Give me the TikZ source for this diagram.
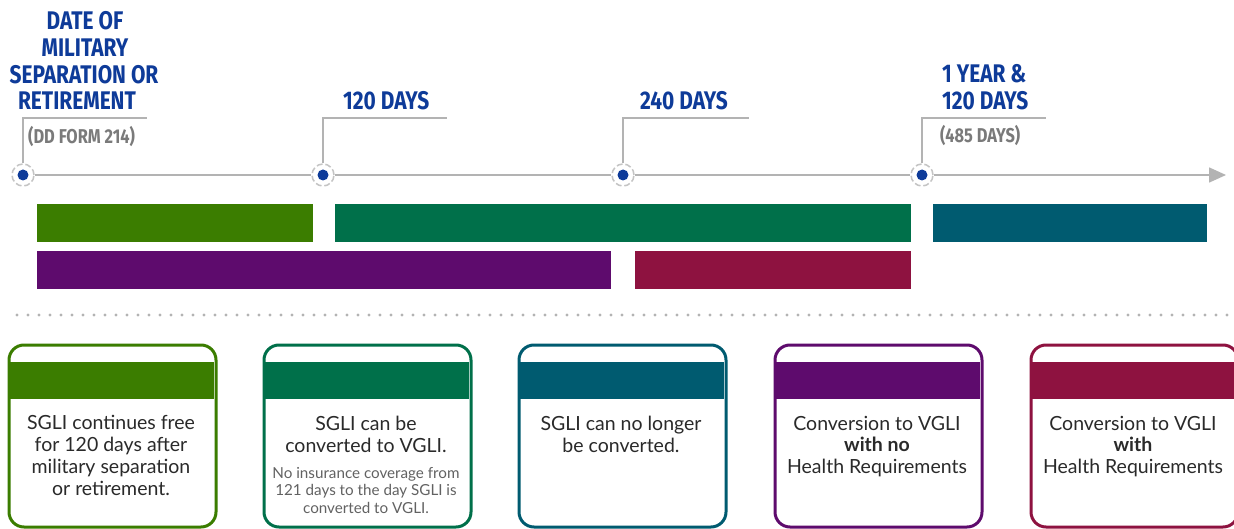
\documentclass[tikz,border=0pt]{standalone}
\usepackage{fontspec}
\setmainfont{Lato}
\newfontfamily\headfont[FakeStretch=0.82]{Fira Sans}
\usetikzlibrary{arrows.meta}
\definecolor{hblue}{HTML}{0E3B99}
\definecolor{hgray}{HTML}{7A7A7A}
\definecolor{lgray}{HTML}{B3B3B3}
\definecolor{rgray}{HTML}{C4C4C4}
\definecolor{cgreen}{HTML}{3B7D00}
\definecolor{cdgreen}{HTML}{00704A}
\definecolor{cteal}{HTML}{005B70}
\definecolor{cpurple}{HTML}{5E0B6D}
\definecolor{ccrimson}{HTML}{8E1240}
\definecolor{txt}{HTML}{2A2A2A}
\tikzset{
  ring/.style={circle, draw=rgray, line width=1.5pt, dash pattern=on 6pt off 2.8pt, fill=white, minimum size=22pt, inner sep=0pt},
  bdot/.style={circle, fill=hblue, minimum size=11pt, inner sep=0pt},
  tl/.style={draw=lgray, line width=1.5pt},
  leader/.style={draw=lgray, line width=1.3pt},
  head/.style={text=hblue, font=\headfont\bfseries\fontsize{25.5}{26.7}\selectfont, inner sep=0pt, align=center},
  sub/.style={text=hgray, font=\headfont\bfseries\fontsize{20}{21}\selectfont, inner sep=0pt},
  bar/.style={minimum height=38pt, inner sep=0pt, anchor=north west},
  card/.style={draw=#1, line width=3pt, rounded corners=15pt, minimum width=207pt, minimum height=182pt, inner sep=0pt, anchor=north west},
  band/.style={fill=#1, minimum height=37pt, minimum width=205pt, inner sep=0pt, anchor=north west},
  ctext/.style={text=txt, font=\fontsize{19.5}{21.7}\selectfont, align=center, inner sep=0pt, anchor=base},
  csmall/.style={text=hgray!80!black, font=\fontsize{15.2}{17.5}\selectfont, align=center, inner sep=0pt, anchor=base},
}
\begin{document}
\begin{tikzpicture}[x=1pt,y=-1pt]
\useasboundingbox[fill=white] (0,0) rectangle (1234,529);
% timeline
\node[ring] (r1) at (23,175) {};
\node[ring] (r2) at (323,175) {};
\node[ring] (r3) at (623,175) {};
\node[ring] (r4) at (922,175) {};
\coordinate (tend) at (1226,175);
\draw[tl] (r1) -- (r2);
\draw[tl] (r2) -- (r3);
\draw[tl] (r3) -- (r4);
\draw[tl, -{Triangle[length=17pt,width=15pt]}] (r4) -- (tend);
\node[bdot] (p1) at (r1) {};
\node[bdot] (p2) at (r2) {};
\node[bdot] (p3) at (r3) {};
\node[bdot] (p4) at (r4) {};
\coordinate (e1) at (147,118);
\coordinate (e2) at (447,118);
\coordinate (e3) at (749,118);
\coordinate (e4) at (1046,118);
\draw[leader] (r1.north) |- (e1);
\draw[leader] (r2.north) |- (e2);
\draw[leader] (r3.north) |- (e3);
\draw[leader] (r4.north) |- (e4);
% headings
\node[head, anchor=base] (h1a) at (85,30) {DATE OF};
\node[head, anchor=base] (h1b) at (85,56.7) {MILITARY};
\node[head, anchor=base] (h1c) at (84,83.3) {SEPARATION OR};
\node[head, anchor=base] (h1d) at (77,110) {RETIREMENT};
\node[sub, anchor=base west] (s1) at (28,144) {(DD FORM 214)};
\node[head, anchor=base west] (h2) at (343,110) {120 DAYS};
\node[head, anchor=base west] (h3) at (640,110) {240 DAYS};
\node[head, anchor=base west] (h4a) at (942,83) {1 YEAR \&};
\node[head, anchor=base west] (h4b) at (942,110) {120 DAYS};
\node[sub, anchor=base west] (s4) at (940,143) {(485 DAYS)};
% bars
\node[bar, fill=cgreen, minimum width=276pt] (bar1) at (37,204) {};
\node[bar, fill=cdgreen, minimum width=576pt] (bar2) at (335,204) {};
\node[bar, fill=cteal, minimum width=274pt] (bar3) at (933,204) {};
\node[bar, fill=cpurple, minimum width=574pt] (bar4) at (37,251) {};
\node[bar, fill=ccrimson, minimum width=276pt] (bar5) at (635,251) {};
% dotted separator
\coordinate (dl) at (17,315);
\coordinate (dr) at (1228,315);
\draw[lgray, line width=3.2pt, line cap=round, dash pattern=on 0pt off 11pt] (dl) -- (dr);
% cards
\foreach \n/\x/\c in {1/7.5/cgreen, 2/262.5/cdgreen, 3/517.5/cteal, 4/773.5/cpurple, 5/1029.5/ccrimson}{
  \node[card=\c] (card\n) at (\x,343.5) {};
  \node[band=\c] (band\n) at (\x+1,362) {};
}
\node[ctext] (t1) at (111,495) {SGLI continues free\\for 120 days after\\military separation\\or retirement.};
\node[ctext] (t2) at (366,452) {SGLI can be\\converted to VGLI.};
\node[csmall] (t2s) at (366,513) {No insurance coverage from\\121 days to the day SGLI is\\converted to VGLI.};
\node[ctext] (t3) at (621,452) {SGLI can no longer\\be converted.};
\node[ctext] (t4) at (877,473.4) {Conversion to VGLI\\\textbf{with no}\\Health Requirements};
\node[ctext] (t5) at (1133,473.4) {Conversion to VGLI\\\textbf{with}\\Health Requirements};
\end{tikzpicture}
\end{document}
